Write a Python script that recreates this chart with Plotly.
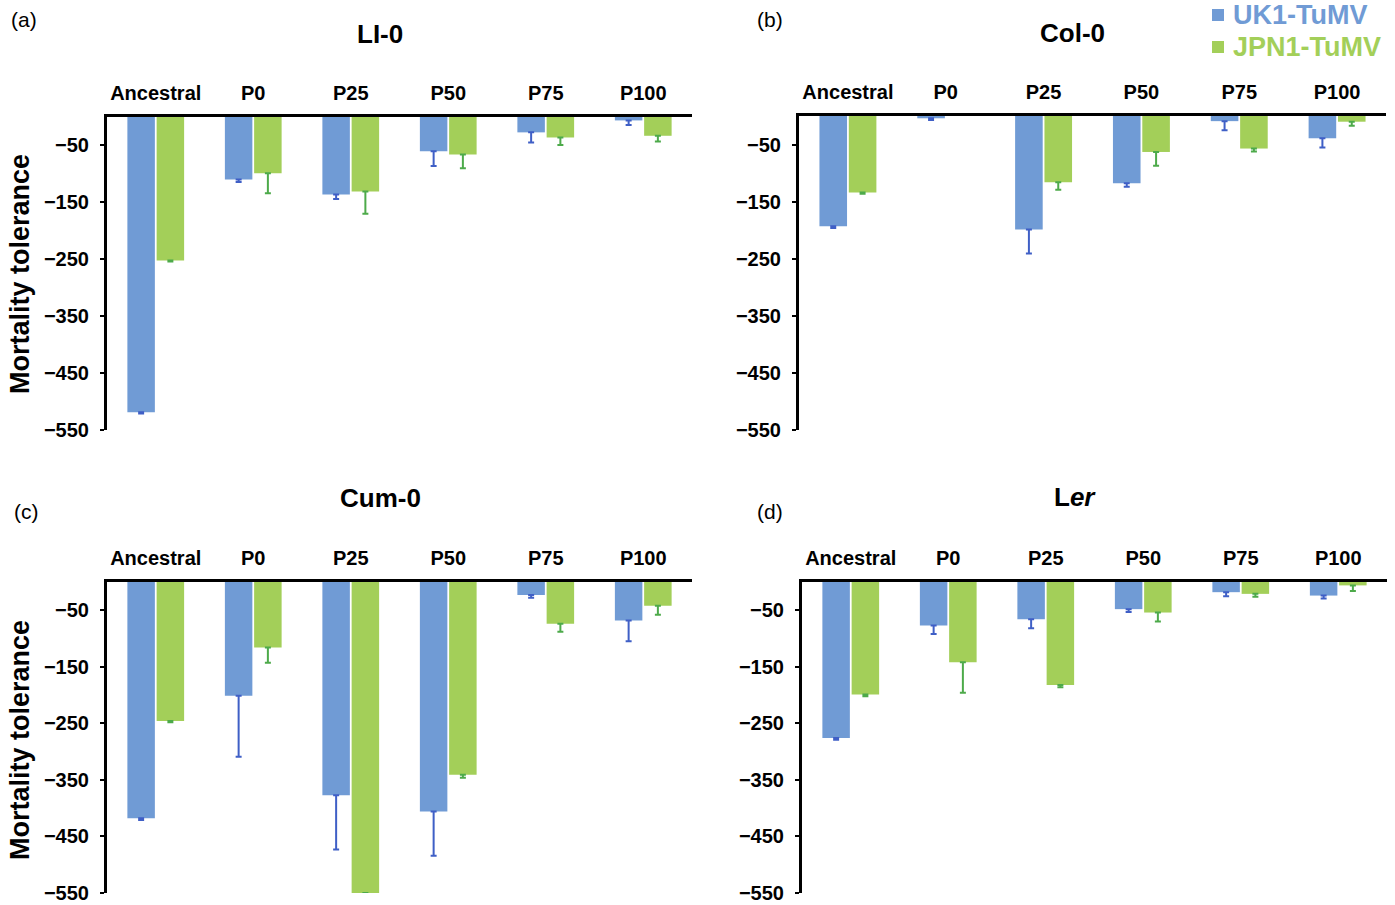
import plotly.graph_objects as go

categories = ["Ancestral", "P0", "P25", "P50", "P75", "P100"]
series_names = ["UK1-TuMV", "JPN1-TuMV"]

li0_uk = [-519, -110, -136, -60, -27, -6]
li0_uk_err = [2, 4, 8, 26, 18, 8]
li0_jpn = [-252, -99, -131, -66, -36, -33]
li0_jpn_err = [2, 35, 39, 24, 13, 10]

col0_uk = [-193, -4, -199, -118, -9, -39]
col0_uk_err = [3, 3, 42, 6, 16, 16]
col0_jpn = [-134, None, -116, -63, -57, -10]
col0_jpn_err = [2, None, 13, 24, 5, 7]

cum0_uk = [-418, -201, -377, -406, -23, -68]
cum0_uk_err = [3, 108, 96, 78, 5, 37]
cum0_jpn = [-246, -116, -550, -341, -74, -42]
cum0_jpn_err = [2, 27, None, 5, 14, 16]

ler_uk = [-276, -77, -66, -48, -18, -24]
ler_uk_err = [3, 15, 16, 5, 7, 5]
ler_jpn = [-199, -142, -182, -54, -21, -6]
ler_jpn_err = [3, 54, 4, 16, 5, 10]

y_tickvals = [-50, -150, -250, -350, -450, -550]
panel_titles = ["LI-0", "Col-0", "Cum-0", "L<i>er</i>"]
panel_letters = ["(a)", "(b)", "(c)", "(d)"]
y_title = "Mortality tolerance"

BLUE = "#709BD5"
GREEN = "#A3CF59"
BLUE_ERR = "#3F5FC6"
GREEN_ERR = "#4DAA4A"
FONT = "Liberation Sans, Arial, sans-serif"

W, H = 1395, 905

panels = [
    dict(uk=li0_uk, uke=li0_uk_err, jp=li0_jpn, jpe=li0_jpn_err,
         x0=107, x1=692, y0=117, y1=430),
    dict(uk=col0_uk, uke=col0_uk_err, jp=col0_jpn, jpe=col0_jpn_err,
         x0=799, x1=1386, y0=116, y1=430),
    dict(uk=cum0_uk, uke=cum0_uk_err, jp=cum0_jpn, jpe=cum0_jpn_err,
         x0=107, x1=692, y0=582, y1=893),
    dict(uk=ler_uk, uke=ler_uk_err, jp=ler_jpn, jpe=ler_jpn_err,
         x0=802, x1=1387, y0=582, y1=893),
]

fig = go.Figure()
layout = {}
for i, p in enumerate(panels):
    n = "" if i == 0 else str(i + 1)
    xa, ya = "x" + n, "y" + n
    for name, vals, errs, col, ecol in [
        (series_names[0], p["uk"], p["uke"], BLUE, BLUE_ERR),
        (series_names[1], p["jp"], p["jpe"], GREEN, GREEN_ERR),
    ]:
        fig.add_trace(go.Bar(
            x=categories, y=vals, name=name,
            marker=dict(color=col, line=dict(width=0)),
            error_y=dict(type="data", symmetric=False,
                         array=[0 if e is not None else None for e in errs],
                         arrayminus=errs, color=ecol, thickness=2, width=3),
            xaxis=xa, yaxis=ya, showlegend=False, legendgroup=name,
        ))
    layout["xaxis" + n] = dict(
        domain=[p["x0"] / W, p["x1"] / W], anchor=ya, side="top",
        showline=True, linewidth=3, linecolor="black", showgrid=False,
        ticks="outside", ticklen=6, tickcolor="rgba(0,0,0,0)",
        tickfont=dict(family=FONT, size=20, color="black", weight="bold"),
        zeroline=False, fixedrange=True, automargin=False,
    )
    layout["yaxis" + n] = dict(
        domain=[1 - p["y1"] / H, 1 - p["y0"] / H], anchor=xa,
        range=[-550, 0], tickvals=y_tickvals,
        showline=True, linewidth=3, linecolor="black", showgrid=False,
        zeroline=False, ticks="outside", ticklen=4, tickwidth=2, tickcolor="black",
        ticklabelstandoff=7, automargin=False, ticklabeloverflow="allow",
        tickfont=dict(family=FONT, size=20, color="black", weight="bold"),
    )

fig.update_layout(**layout)

ann = []
shapes = []
title_pos = [(380, 34), (1072, 33), (380, 498), (1075, 497)]
letter_pos = [(24, 20), (770, 20), (26, 511), (770, 511)]
for t, (tx, ty) in zip(panel_titles, title_pos):
    ann.append(dict(text=t, x=tx / W, y=1 - ty / H, xref="paper", yref="paper",
                    showarrow=False, xanchor="center", yanchor="middle",
                    font=dict(family=FONT, size=26, color="black", weight="bold")))
for t, (tx, ty) in zip(panel_letters, letter_pos):
    ann.append(dict(text=t, x=tx / W, y=1 - ty / H, xref="paper", yref="paper",
                    showarrow=False, xanchor="center", yanchor="middle",
                    font=dict(family=FONT, size=21, color="black")))
for cy in [274, 740]:
    ann.append(dict(text=y_title, x=20 / W, y=1 - cy / H, xref="paper", yref="paper",
                    showarrow=False, textangle=-90, xanchor="center", yanchor="middle",
                    font=dict(family=FONT, size=27, color="black", weight="bold")))

# legend (drawn as key squares + coloured labels)
for name, col, cy in [(series_names[0], BLUE, 15), (series_names[1], GREEN, 47)]:
    shapes.append(dict(type="rect", xref="paper", yref="paper",
                       x0=1212 / W, x1=1224 / W, y0=1 - (cy + 6) / H, y1=1 - (cy - 6) / H,
                       fillcolor=col, line=dict(width=0)))
    ann.append(dict(text=name, x=1231 / W, y=1 - cy / H, xref="paper", yref="paper",
                    showarrow=False, xanchor="left", yanchor="middle",
                    font=dict(family=FONT, size=27, color=col, weight="bold")))

fig.update_layout(
    width=W, height=H, margin=dict(l=0, r=0, t=0, b=0, autoexpand=False),
    paper_bgcolor="white", plot_bgcolor="white",
    barmode="group", bargap=0.4, bargroupgap=0.06,
    annotations=ann, shapes=shapes, showlegend=False,
)

fig.write_html("out.html")
